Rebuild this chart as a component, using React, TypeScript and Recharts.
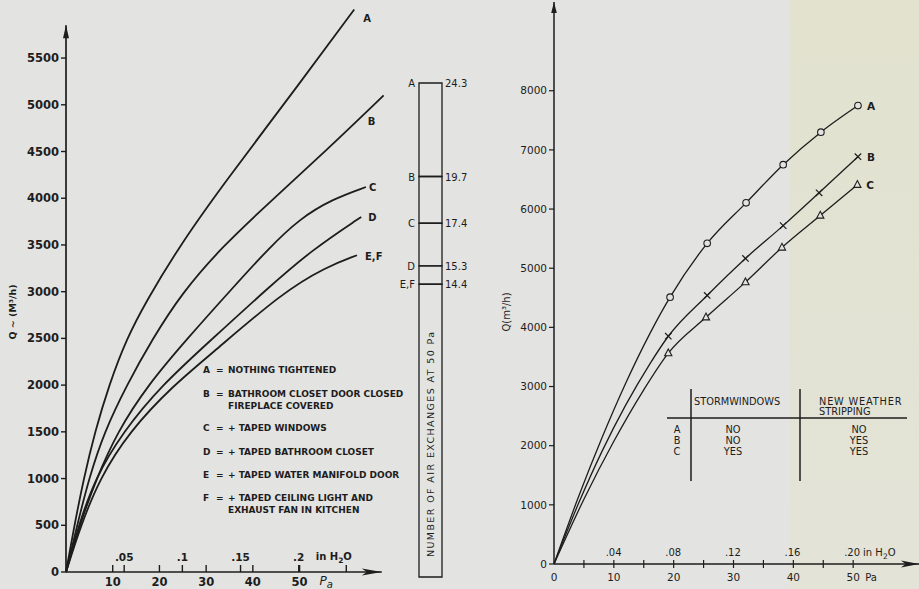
import React from "react";
import {
  ComposedChart, BarChart, Bar, Line, XAxis, YAxis,
  ReferenceLine, ReferenceDot, LabelList,
} from "recharts";

const INK = "#1d1d1d";
const BG = "#e3e3e1";
const FONT = "'DejaVu Sans', sans-serif";
const PA_PER_INH2O = 249.09;

// ---- left panel: leakage curves, Q (m3/h) against Pa ----
const leftP_A = [0, 1.8, 3.8, 6.2, 9.2, 13, 17.2, 24.2, 33.2, 50.5, 61.7];
const leftQ_A = [0, 500, 1000, 1500, 2000, 2500, 2900, 3480, 4120, 5260, 6020];
const leftP_B = [0, 2.4, 4.9, 8.2, 13, 18.4, 24.8, 33.4, 44.1, 55.7, 68];
const leftQ_B = [0, 500, 1000, 1500, 2000, 2485, 2985, 3480, 3980, 4510, 5100];
const leftP_C = [0, 2.9, 6.5, 11, 17.5, 26, 35.5, 43.5, 50, 57, 64.2];
const leftQ_C = [0, 500, 1000, 1500, 2000, 2500, 3030, 3470, 3780, 3990, 4120];
const leftP_D = [0, 2.7, 6.2, 12.2, 20.5, 31, 42.8, 52.7, 63.2];
const leftQ_D = [0, 500, 1000, 1500, 2000, 2480, 3020, 3450, 3800];
const leftP_EF = [0, 3.2, 7.2, 13.5, 23, 31.4, 46.3, 55.7, 62.3];
const leftQ_EF = [0, 500, 1000, 1500, 2000, 2345, 2990, 3265, 3390];

const leftNames = ["A", "B", "C", "D", "E,F"];
const leftPs = [leftP_A, leftP_B, leftP_C, leftP_D, leftP_EF];
const leftQs = [leftQ_A, leftQ_B, leftQ_C, leftQ_D, leftQ_EF];
// where each curve name sits relative to the curve end
const leftLabelOffset = [[9, 13], [-16, 30], [3, 4], [7, 4], [8, 4.5]];

const leftYTicks = [0, 500, 1000, 1500, 2000, 2500, 3000, 3500, 4000, 4500, 5000, 5500];
const leftPaTicks = [10, 20, 30, 40, 50, 60];
const leftPaLabels = [10, 20, 30, 40, 50];
const leftInchTicks = [0.05, 0.1, 0.15, 0.2];

const legendKeys = ["A", "B", "C", "D", "E", "F"];
const legendLines = [
  ["NOTHING TIGHTENED"],
  ["BATHROOM CLOSET DOOR CLOSED", "FIREPLACE COVERED"],
  ["+ TAPED WINDOWS"],
  ["+ TAPED BATHROOM CLOSET"],
  ["+ TAPED WATER MANIFOLD DOOR"],
  ["+ TAPED CEILING LIGHT AND", "EXHAUST FAN IN KITCHEN"],
];
const legendY = [373, 397, 431, 455, 478, 501];

// ---- middle: air exchanges at 50 Pa ----
const exchangeNames = ["E,F", "D", "C", "B", "A"];
const exchangeValues = [14.4, 15.3, 17.4, 19.7, 24.3];

// ---- right panel: measured points ----
const rightNames = ["A", "B", "C"];
const rightP_A = [19.4, 25.6, 32.1, 38.3, 44.6, 50.8];
const rightQ_A = [4510, 5420, 6105, 6750, 7300, 7750];
const rightP_B = [19.1, 25.6, 32.0, 38.3, 44.3, 50.8];
const rightQ_B = [3850, 4540, 5165, 5720, 6275, 6885];
const rightP_C = [19.1, 25.4, 32.0, 38.1, 44.5, 50.7];
const rightQ_C = [3565, 4170, 4765, 5350, 5890, 6410];
// drawn curve below the first measurement, down to the origin
const rightFitP_A = [0, 4, 8, 12, 16];
const rightFitQ_A = [0, 1110, 2130, 3060, 3890];
const rightFitP_B = [0, 4, 8, 12, 16];
const rightFitQ_B = [0, 1000, 1900, 2690, 3380];
const rightFitP_C = [0, 5, 10, 15];
const rightFitQ_C = [0, 1095, 2075, 2945];

const rightPs = [rightP_A, rightP_B, rightP_C];
const rightQs = [rightQ_A, rightQ_B, rightQ_C];
const rightFitPs = [rightFitP_A, rightFitP_B, rightFitP_C];
const rightFitQs = [rightFitQ_A, rightFitQ_B, rightFitQ_C];
const rightMarkers = ["circle", "cross", "triangle"];

const rightYTicks = [0, 1000, 2000, 3000, 4000, 5000, 6000, 7000, 8000];
const rightPaTicks = [0, 5, 10, 15, 20, 25, 30, 35, 40, 45, 50];
const rightInchTicks = [0.04, 0.08, 0.12, 0.16, 0.2];

const tableRows = ["A", "B", "C"];
const tableStorm = ["NO", "NO", "YES"];
const tableStrip = ["NO", "YES", "YES"];

const txt = { fontFamily: FONT, fill: INK };

const upArrow = (w: number, len: number) => (p: any) => (
  <path d={`M${p.cx},${p.cy} L${p.cx - w},${p.cy + len} L${p.cx + w},${p.cy + len} Z`} fill={INK} />
);
const rightArrow = (w: number, len: number) => (p: any) => (
  <path d={`M${p.cx},${p.cy} L${p.cx - len},${p.cy - w} L${p.cx - len * 0.75},${p.cy} L${p.cx - len},${p.cy + w} Z`} fill={INK} />
);

const H2O = () => (
  <>in H<tspan dy={3} fontSize="0.75em">2</tspan><tspan dy={-3}>O</tspan></>
);

const LeftXTick = ({ x, y, payload }: any) => {
  const v = payload.value;
  const inch = leftInchTicks.find((i) => Math.abs(i * PA_PER_INH2O - v) < 1e-6);
  if (inch !== undefined) {
    return (
      <g>
        <line x1={x} x2={x} y1={y} y2={y - 7} stroke={INK} strokeWidth={1.4} />
        <text x={x} y={y - 11} textAnchor="middle" fontSize={10.5} fontWeight="bold" {...txt}>
          {String(inch).replace(/^0/, "")}
        </text>
        {inch === leftInchTicks[leftInchTicks.length - 1] && (
          <text x={x + 17} y={y - 12} fontSize={10} fontWeight="bold" {...txt}><H2O /></text>
        )}
      </g>
    );
  }
  return (
    <g>
      <line x1={x} x2={x} y1={y} y2={y - 7} stroke={INK} strokeWidth={1.4} />
      {leftPaLabels.includes(v) && (
        <text x={x} y={y + 14} textAnchor="middle" fontSize={11.5} fontWeight="bold" {...txt}>{v}</text>
      )}
      {v === 50 && (
        <text x={x + 20} y={y + 13} fontSize={12} fontStyle="italic" {...txt}>
          P<tspan dy={3} fontSize={10}>a</tspan>
        </text>
      )}
    </g>
  );
};

const RightXTick = ({ x, y, payload }: any) => {
  const v = payload.value;
  const inch = rightInchTicks.find((i) => Math.abs(i * PA_PER_INH2O - v) < 1e-6);
  if (inch !== undefined) {
    return (
      <g>
        <text x={x} y={y - 8} textAnchor="middle" fontSize={10} {...txt}>
          {inch.toFixed(2).replace(/^0/, "")}
        </text>
        {inch === rightInchTicks[rightInchTicks.length - 1] && (
          <text x={x + 11} y={y - 8} fontSize={10} {...txt}><H2O /></text>
        )}
      </g>
    );
  }
  return (
    <g>
      {v > 0 && <line x1={x} x2={x} y1={y - 4} y2={y + 4} stroke={INK} strokeWidth={1.2} />}
      {v % 10 === 0 && (
        <text x={x} y={y + 17} textAnchor="middle" fontSize={10.5} {...txt}>{v}</text>
      )}
      {v === 50 && (
        <text x={x + 12} y={y + 17} fontSize={10} {...txt}>Pa</text>
      )}
    </g>
  );
};

function LeftChart() {
  const ticks = [...leftPaTicks, ...leftInchTicks.map((i) => i * PA_PER_INH2O)];
  return (
    <ComposedChart width={400} height={589} margin={{ top: 2, right: 7, bottom: 0, left: 5 }}>
      <XAxis
        type="number" dataKey="p" domain={[0, 70]} ticks={ticks} interval={0}
        axisLine={false} tickLine={false} tickSize={0} tickMargin={0} height={17}
        tick={(props: any) => <LeftXTick {...props} />}
      />
      <YAxis
        type="number" dataKey="q" domain={[0, 6100]} ticks={leftYTicks} interval={0} width={61}
        axisLine={false} tickSize={5} tickMargin={2}
        tickLine={{ stroke: INK, strokeWidth: 1.4 }}
        tick={{ fontSize: 11.5, fontWeight: "bold", fill: INK, fontFamily: FONT }}
      />
      <ReferenceLine segment={[{ x: 0, y: 0 }, { x: 0, y: 5850 }]} stroke={INK} strokeWidth={1.7} />
      <ReferenceLine segment={[{ x: 0, y: 0 }, { x: 67.6, y: 0 }]} stroke={INK} strokeWidth={1.7} />
      <ReferenceDot x={0} y={5850} r={1} shape={upArrow(3, 13)} />
      <ReferenceDot x={67.6} y={0} r={1} shape={rightArrow(3.5, 20)} />
      {leftNames.map((name, k) => (
        <Line
          key={name}
          data={leftPs[k].map((p, i) => ({ p, q: leftQs[k][i] }))}
          dataKey="q" type="basis" stroke={INK} strokeWidth={1.8}
          dot={false} activeDot={false} isAnimationActive={false}
        />
      ))}
      {leftNames.map((name, k) => (
        <ReferenceDot
          key={"l" + name}
          x={leftPs[k][leftPs[k].length - 1]} y={leftQs[k][leftQs[k].length - 1]} r={1}
          shape={(p: any) => (
            <text x={p.cx + leftLabelOffset[k][0]} y={p.cy + leftLabelOffset[k][1]} fontSize={10} fontWeight="bold" {...txt}>
              {name}
            </text>
          )}
        />
      ))}
    </ComposedChart>
  );
}

function ExchangeBar() {
  const row: Record<string, number | string> = { k: "n50" };
  exchangeValues.forEach((v, i) => {
    row["s" + i] = +(v - (i > 0 ? exchangeValues[i - 1] : 0)).toFixed(2);
  });
  return (
    <BarChart width={100} height={589} data={[row]} margin={{ top: 83, right: 0, bottom: 12, left: 0 }} barSize={23}>
      <XAxis dataKey="k" hide />
      <YAxis domain={[0, 24.3]} hide />
      {exchangeValues.map((_, i) => (
        <Bar key={i} dataKey={"s" + i} stackId="n" fill="none" stroke={INK} strokeWidth={1.3} isAnimationActive={false}>
          <LabelList
            content={(p: any) => {
              const x = Number(p.x), y = Number(p.y), w = Number(p.width), h = Number(p.height);
              return (
                <g>
                  <text x={x - 4} y={y + 4} textAnchor="end" fontSize={10} {...txt}>{exchangeNames[i]}</text>
                  <text x={x + w + 3} y={y + 4} fontSize={10} {...txt}>{exchangeValues[i]}</text>
                  {i === 0 && (
                    <text
                      x={x + w / 2 + 3.5} y={y + h - 20} fontSize={9.5} letterSpacing={1.4}
                      transform={`rotate(-90 ${x + w / 2 + 3.5} ${y + h - 20})`} {...txt}
                    >
                      NUMBER OF AIR EXCHANGES AT 50 Pa
                    </text>
                  )}
                </g>
              );
            }}
          />
        </Bar>
      ))}
    </BarChart>
  );
}

const Marker = ({ kind, cx, cy }: { kind: string; cx: number; cy: number }) => {
  if (kind === "circle") return <circle cx={cx} cy={cy} r={3.3} fill={BG} stroke={INK} strokeWidth={1.1} />;
  if (kind === "cross")
    return (
      <g stroke={INK} strokeWidth={1.2}>
        <line x1={cx - 3.2} y1={cy - 3.2} x2={cx + 3.2} y2={cy + 3.2} />
        <line x1={cx - 3.2} y1={cy + 3.2} x2={cx + 3.2} y2={cy - 3.2} />
      </g>
    );
  return <path d={`M${cx},${cy - 4.2} L${cx + 3.6},${cy + 2.6} L${cx - 3.6},${cy + 2.6} Z`} fill={BG} stroke={INK} strokeWidth={1.1} />;
};

function RightChart() {
  const ticks = [...rightPaTicks, ...rightInchTicks.map((i) => i * PA_PER_INH2O)];
  return (
    <ComposedChart width={449} height={589} margin={{ top: 2, right: 0, bottom: 0, left: 20 }}>
      <XAxis
        type="number" dataKey="p" domain={[0, 61]} ticks={ticks} interval={0}
        axisLine={false} tickLine={false} tickSize={0} tickMargin={0} height={25}
        tick={(props: any) => <RightXTick {...props} />}
      />
      <YAxis
        type="number" dataKey="q" domain={[0, 9500]} ticks={rightYTicks} interval={0} width={64}
        axisLine={false} tickSize={5} tickMargin={2}
        tickLine={{ stroke: INK, strokeWidth: 1.2 }}
        tick={{ fontSize: 10.5, fill: INK, fontFamily: FONT }}
      />
      <ReferenceLine segment={[{ x: 0, y: 0 }, { x: 0, y: 9500 }]} stroke={INK} strokeWidth={1.5} />
      <ReferenceLine segment={[{ x: 0, y: 0 }, { x: 61, y: 0 }]} stroke={INK} strokeWidth={1.5} />
      <ReferenceDot x={0} y={9500} r={1} shape={upArrow(2.8, 11)} />
      <ReferenceDot x={61} y={0} r={1} shape={rightArrow(3.5, 18)} />
      {rightNames.map((name, k) => {
        const data = [
          ...rightFitPs[k].map((p, i) => ({ p, q: rightFitQs[k][i], m: false })),
          ...rightPs[k].map((p, i) => ({ p, q: rightQs[k][i], m: true })),
        ];
        return (
          <Line
            key={name} data={data} dataKey="q" type="monotone" stroke={INK} strokeWidth={1.3}
            activeDot={false} isAnimationActive={false}
            dot={(d: any) =>
              d.payload.m
                ? <Marker key={d.index} kind={rightMarkers[k]} cx={d.cx} cy={d.cy} />
                : <g key={d.index} />
            }
          />
        );
      })}
      {rightNames.map((name, k) => (
        <ReferenceDot
          key={"l" + name}
          x={rightPs[k][rightPs[k].length - 1]} y={rightQs[k][rightQs[k].length - 1]} r={1}
          shape={(p: any) => (
            <text x={p.cx + 9} y={p.cy + 4} fontSize={10.5} fontWeight="bold" {...txt}>{name}</text>
          )}
        />
      ))}
    </ComposedChart>
  );
}

function Overlay() {
  return (
    <svg width={919} height={589} style={{ position: "absolute", left: 0, top: 0, pointerEvents: "none" }}>
      <text x={16} y={312} transform="rotate(-90 16 312)" textAnchor="middle" fontSize={9.5} fontWeight="bold" {...txt}>
        Q ~ (M³/h)
      </text>
      <text x={510} y={312} transform="rotate(-90 510 312)" textAnchor="middle" fontSize={10} {...txt}>
        Q(m³/h)
      </text>
      {legendKeys.map((key, i) => (
        <g key={key} fontSize={9} fontWeight="bold" {...txt}>
          <text x={203} y={legendY[i]}>{key}</text>
          <text x={216} y={legendY[i]}>=</text>
          {legendLines[i].map((line, j) => (
            <text key={j} x={228} y={legendY[i] + j * 12}>{line}</text>
          ))}
        </g>
      ))}
      <g stroke={INK} strokeWidth={1.5}>
        <line x1={667} y1={418} x2={907} y2={418} />
        <line x1={691} y1={389} x2={691} y2={481} />
        <line x1={800} y1={389} x2={800} y2={481} />
      </g>
      <g fontSize={9.8} {...txt}>
        <text x={694} y={405}>STORMWINDOWS</text>
        <text x={819} y={405} letterSpacing={0.8}>NEW WEATHER</text>
        <text x={819} y={415}>STRIPPING</text>
        {tableRows.map((r, i) => (
          <g key={r}>
            <text x={677} y={433 + i * 11} textAnchor="middle">{r}</text>
            <text x={733} y={433 + i * 11} textAnchor="middle">{tableStorm[i]}</text>
            <text x={859} y={433 + i * 11} textAnchor="middle">{tableStrip[i]}</text>
          </g>
        ))}
      </g>
    </svg>
  );
}

export default function App() {
  return (
    <div style={{ position: "absolute", left: 0, top: 0, width: 919, height: 589, background: BG, overflow: "hidden" }}>
      <div style={{ position: "absolute", left: 790, top: 0, width: 129, height: 589, background: "linear-gradient(#e2e2cf, #e3e3d8)" }} />
      <div style={{ position: "absolute", left: 0, top: 0 }}><LeftChart /></div>
      <div style={{ position: "absolute", left: 380, top: 0 }}><ExchangeBar /></div>
      <div style={{ position: "absolute", left: 470, top: 0 }}><RightChart /></div>
      <Overlay />
    </div>
  );
}
